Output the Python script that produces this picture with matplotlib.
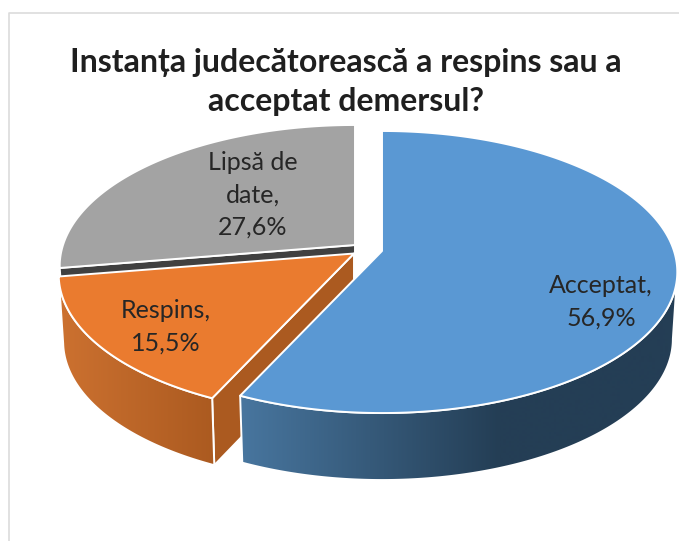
import numpy as np
import matplotlib
matplotlib.use("Agg")
import matplotlib.pyplot as plt
from matplotlib.patches import Polygon

# Chart data
categories = ['Acceptat', 'Respins', 'Lipsă de\ndate']
values = [56.9, 15.5, 27.6]
value_labels = ['56,9%', '15,5%', '27,6%']
title = 'Instanța judecătorească a respins sau a\nacceptat demersul?'

W, H = 679, 541

# Fake 3D pie geometry (pixels)
CX, CY = 382, 251
RX, RY = 292, 137.9
PERSP = 0.149
DEPTH = 67
BOTTOM_SCALE = 0.985
offsets = [(0, 0), (-28, 2.5), (-27, -6)]
top_colors = ['#5a98d3', '#ea7b2f', '#a3a3a3']
face_colors = [None, '#ab5a20', '#404040']
side_ramps = [[(240, '#48769f'), (500, '#243e55'), (680, '#243e55')],
              [(60, '#cc7130'), (215, '#ab5a20')],
              None]
label_pos = [(601, 302), (166, 327), (253, 195)]
FONTS = ['Lato', 'Open Sans']


def rim(a, off):
    # a in degrees, perspective projection of a point of the pie circle
    a = np.radians(a)
    w = 1 + PERSP * np.sin(a)
    return np.column_stack([CX + off[0] + RX * np.cos(a) / w,
                            CY + off[1] - RY * np.sin(a) / w])


def lower(pts, off):
    out = pts.copy()
    out[:, 0] = CX + off[0] + (pts[:, 0] - CX - off[0]) * BOTTOM_SCALE
    out[:, 1] = pts[:, 1] + DEPTH
    return out


fig = plt.figure(figsize=(W / 100, H / 100), dpi=100)
ax = fig.add_axes([0, 0, 1, 1])
ax.set_xlim(0, W)
ax.set_ylim(H, 0)
ax.axis('off')

# Chart frame
ax.plot([8.5, 8.5, W], [H, 13, 13], color='#dcdcdc', lw=1.2, zorder=0)

# Slice angles, clockwise from the top
edges = 90 - np.cumsum([0] + values) * 3.6
silhouette = -np.degrees(np.arcsin(PERSP))

WHITE = dict(edgecolor='white', lw=1.4, joinstyle='round')
z = 1
for i in [2, 1, 0]:
    a0, a1 = edges[i], edges[i + 1]
    off = offsets[i]
    angles = np.linspace(a0, a1, 200)
    apex = np.array([[CX + off[0], CY + off[1]]])
    top = rim(angles, off)

    # cut face of the slice
    if face_colors[i]:
        first = rim(np.array([a0]), off)
        low = lower(np.vstack([apex, first]), off)
        ax.add_patch(Polygon(np.vstack([apex, first, low[1], low[0]]),
                             facecolor=face_colors[i], zorder=z, **WHITE))
        z += 1

    # outer side with a horizontal gradient
    if side_ramps[i]:
        vis = np.linspace(max(a1, -179), min(a0, silhouette), 200)
        r = rim(vis, off)
        side = Polygon(np.vstack([r, lower(r, off)[::-1]]), facecolor='none', **WHITE, zorder=z + 1)
        ax.add_patch(side)
        xs = np.linspace(0, W, W + 1)
        stops = side_ramps[i]
        rgb = np.array([matplotlib.colors.to_rgb(s[1]) for s in stops])
        grad = np.stack([np.interp(xs, [s[0] for s in stops], rgb[:, c]) for c in range(3)], axis=1)[None]
        im = ax.imshow(grad, extent=(0, W, H, 0), aspect='auto', zorder=z)
        clip = Polygon(side.get_xy(), transform=ax.transData)
        im.set_clip_path(clip)
        ax.set_xlim(0, W)
        ax.set_ylim(H, 0)
        z += 2

    # top surface
    ax.add_patch(Polygon(np.vstack([apex, top]), facecolor=top_colors[i], zorder=z, **WHITE))
    z += 1

for cat, lab, pos in zip(categories, value_labels, label_pos):
    ax.text(pos[0], pos[1], f'{cat},\n{lab}', ha='center', va='center', color='#262626',
            family=FONTS, fontsize=18, linespacing=1.5, zorder=z)

ax.text(346, 82, title, ha='center', va='center', color='#1f1f1f', family=FONTS,
        fontweight='bold', fontsize=23, linespacing=1.43, zorder=z)

fig.savefig('out.png', dpi=100)
